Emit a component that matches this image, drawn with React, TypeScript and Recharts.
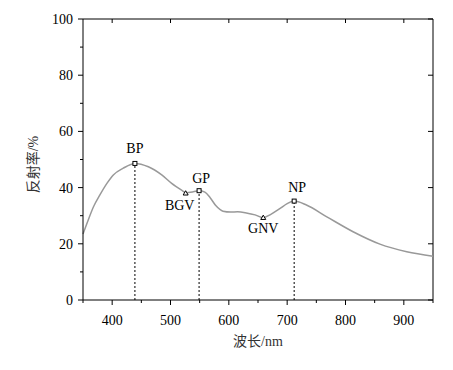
import React from "react";
import {
  ComposedChart,
  Line,
  Scatter,
  XAxis,
  YAxis,
  ReferenceLine,
  ReferenceDot,
} from "recharts";

// spectrum
const wavelength = [
  350, 359, 368, 379, 391, 402, 419, 439, 462, 485, 502, 519, 526, 539, 549,
  559, 568, 578, 590, 603, 615, 630, 645, 659, 672, 688, 700, 712, 733, 768,
  813, 859, 905, 950,
];
const reflectance = [
  23.5, 28.5, 33.2, 37.4, 41.5, 44.5, 46.9, 48.6, 47.4, 44.5, 41.5, 39.1, 38.2,
  38.5, 38.9, 38.4, 36.4, 33.5, 31.6, 31.3, 31.4, 31.0, 30.3, 29.3, 30.5, 32.6,
  34.3, 35.2, 33.8, 29.6, 24.3, 19.9, 17.2, 15.6,
];

// characteristic points
const featureNames = ["BP", "BGV", "GP", "GNV", "NP"];
const featureX = [439, 526, 549, 659, 712];
const featureY = [48.6, 38.0, 38.9, 29.3, 35.2];
const featureKind = ["peak", "valley", "peak", "valley", "peak"];

const xMin = 350;
const xMax = 950;
const yMin = 0;
const yMax = 100;
const xTicks = [350, 400, 450, 500, 550, 600, 650, 700, 750, 800, 850, 900, 950];
const xTicksMajor = [400, 500, 600, 700, 800, 900];
const yTicks = [0, 10, 20, 30, 40, 50, 60, 70, 80, 90, 100];
const yTicksMajor = [0, 20, 40, 60, 80, 100];

const data = wavelength.map((w, i) => ({ w, r: reflectance[i] }));

// top + right edges of the box, and the inward ticks on them
const frameData = [
  { w: xMin, r: yMax },
  { w: xMax, r: yMax },
  { w: xMax, r: yMin },
];
const topTickData = xTicksMajor.map((w) => ({ w, r: yMax }));
const rightTickData = yTicksMajor.map((r) => ({ w: xMax, r }));

// label placement relative to the marker (pixels)
const labelOffset: Record<string, [number, number]> = {
  BP: [0, -10],
  GP: [2, -8],
  BGV: [-6, 17],
  GNV: [0, 15],
  NP: [3, -9],
};

const FONT = "'Liberation Serif', 'Noto Sans CJK SC', serif";
const FS = 14;

function BottomTick(props: any) {
  const { x, y, payload } = props;
  const major = payload.value % 100 === 0;
  return (
    <g>
      <line x1={x} x2={x} y1={y} y2={y + (major ? 5 : 3)} stroke="#000" />
      {major && (
        <text x={x} y={y + 25} textAnchor="middle" fontSize={FS} fontFamily={FONT} fill="#000">
          {payload.value}
        </text>
      )}
    </g>
  );
}

function LeftTick(props: any) {
  const { x, y, payload } = props;
  const major = payload.value % 20 === 0;
  return (
    <g>
      <line x1={x - (major ? 5 : 3)} x2={x} y1={y} y2={y} stroke="#000" />
      {major && (
        <text x={x - 10} y={y + 5} textAnchor="end" fontSize={FS} fontFamily={FONT} fill="#000">
          {payload.value}
        </text>
      )}
    </g>
  );
}

function TopTickShape(props: any) {
  const { cx, cy } = props;
  if (cx == null || cy == null) return <g />;
  return <line x1={cx} x2={cx} y1={cy} y2={cy + 4} stroke="#000" strokeWidth={1} />;
}

function RightTickShape(props: any) {
  const { cx, cy } = props;
  if (cx == null || cy == null) return <g />;
  return <line x1={cx} x2={cx - 5} y1={cy} y2={cy} stroke="#000" strokeWidth={1} />;
}

function FeatureMark(props: any) {
  const { cx, cy, name, kind } = props;
  if (cx == null || cy == null) return <g />;
  const [dx, dy] = labelOffset[name] ?? [0, -10];
  return (
    <g>
      {kind === "peak" ? (
        <rect x={cx - 2} y={cy - 2} width={4} height={4} fill="#fff" stroke="#000" strokeWidth={1} />
      ) : (
        <path d={`M${cx},${cy - 2.5} L${cx + 2.5},${cy + 1.8} L${cx - 2.5},${cy + 1.8} Z`} fill="#fff" stroke="#000" strokeWidth={1} />
      )}
      <text x={cx + dx} y={cy + dy} textAnchor="middle" fontSize={FS} fontFamily={FONT} fill="#000">
        {name}
      </text>
    </g>
  );
}

export default function App() {
  return (
    <div style={{ position: "absolute", left: 0, top: 0 }}>
      <ComposedChart
        width={453}
        height={370}
        data={data}
        margin={{ top: 19, right: 20, left: 23, bottom: 20 }}
      >
        <XAxis
          dataKey="w"
          type="number"
          domain={[xMin, xMax]}
          ticks={xTicks}
          interval={0}
          height={50}
          tickSize={0}
          tickMargin={0}
          tickLine={false}
          axisLine={{ stroke: "#000" }}
          tick={<BottomTick />}
          label={{
            value: "波长/nm",
            position: "insideBottom",
            offset: 4,
            fontSize: FS,
            fontFamily: FONT,
            fill: "#333",
          }}
        />
        <YAxis
          type="number"
          domain={[yMin, yMax]}
          ticks={yTicks}
          interval={0}
          width={60}
          tickSize={0}
          tickMargin={0}
          tickLine={false}
          axisLine={{ stroke: "#000" }}
          tick={<LeftTick />}
          label={{
            value: "反射率/%",
            content: (p: any) => {
              const vb = p.viewBox;
              const cx = vb.x + 10;
              const cy = vb.y + vb.height / 2 + 5;
              return (
                <text
                  x={cx}
                  y={cy}
                  transform={`rotate(-90 ${cx} ${cy})`}
                  textAnchor="middle"
                  dominantBaseline="central"
                  fontSize={FS}
                  fontFamily={FONT}
                  fill="#333"
                >
                  反射率/%
                </text>
              );
            },
          }}
        />

        {/* box edges */}
        <Line
          data={frameData}
          dataKey="r"
          type="linear"
          stroke="#000"
          strokeWidth={1}
          dot={false}
          activeDot={false}
          isAnimationActive={false}
        />
        <Scatter
          data={topTickData}
          dataKey="r"
          shape={(p: any) => <TopTickShape {...p} />}
          isAnimationActive={false}
        />
        <Scatter
          data={rightTickData}
          dataKey="r"
          shape={(p: any) => <RightTickShape {...p} />}
          isAnimationActive={false}
        />

        {featureNames.map((n, i) =>
          featureKind[i] === "peak" ? (
            <ReferenceLine
              key={"l" + n}
              segment={[
                { x: featureX[i], y: 0 },
                { x: featureX[i], y: featureY[i] },
              ]}
              stroke="#000"
              strokeDasharray="2 2"
              strokeWidth={1}
              ifOverflow="visible"
            />
          ) : null
        )}

        <Line
          type="monotone"
          dataKey="r"
          stroke="#999"
          strokeWidth={1.5}
          dot={false}
          activeDot={false}
          isAnimationActive={false}
        />

        {featureNames.map((n, i) => (
          <ReferenceDot
            key={"d" + n}
            x={featureX[i]}
            y={featureY[i]}
            ifOverflow="visible"
            shape={(p: any) => <FeatureMark {...p} name={n} kind={featureKind[i]} />}
          />
        ))}
      </ComposedChart>
    </div>
  );
}
